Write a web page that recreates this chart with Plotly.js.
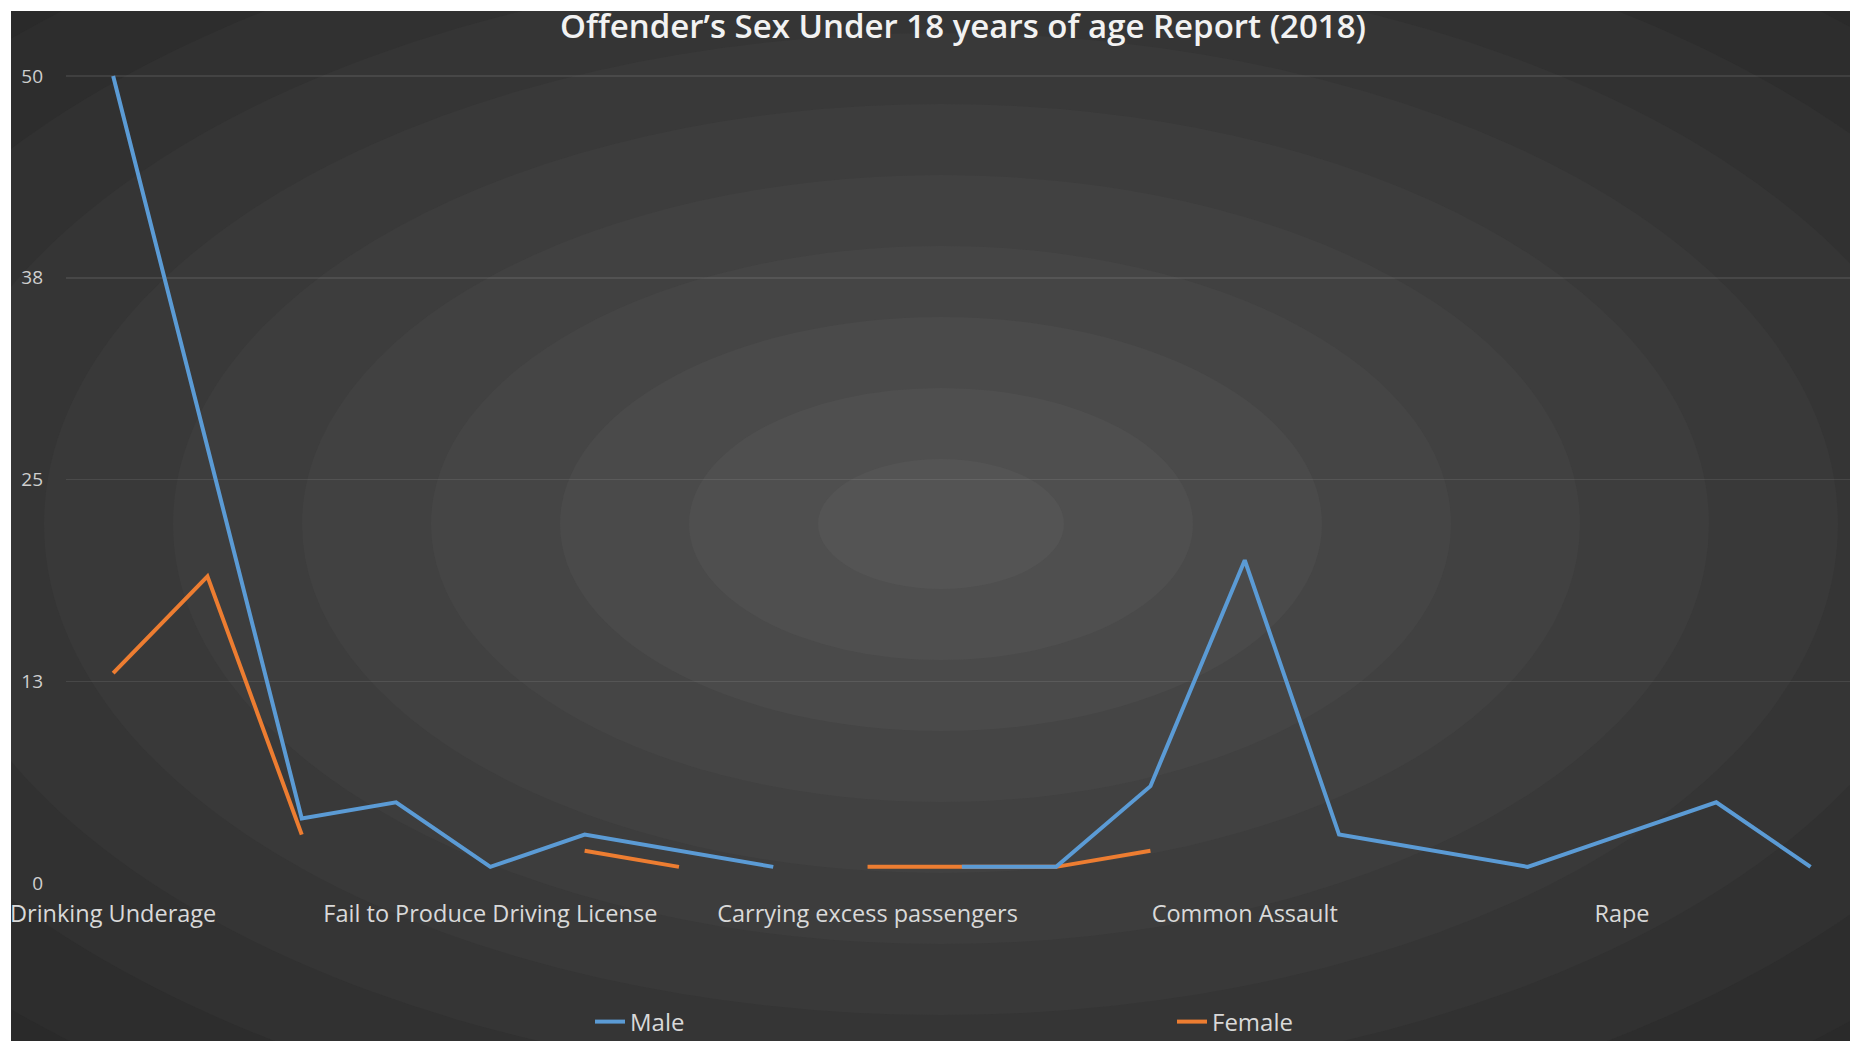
<!DOCTYPE html>
<html>
<head>
<meta charset="utf-8">
<script src="https://cdn.plot.ly/plotly-3.0.1.min.js"></script>
<style>
  html, body { margin: 0; padding: 0; background: #ffffff; overflow: hidden; }
  #chart { width: 1850px; height: 1041px; }
</style>
</head>
<body>
<div id="chart"></div>
<script>
// ---- data ----
const chartTitle = "Offender’s Sex Under 18 years of age Report (2018)";
// Only every 4th category label is shown in the reference; the hidden ones are unknown (null).
const categories = [
  "Drinking Underage", null, null, null,
  "Fail to Produce Driving License", null, null, null,
  "Carrying excess passengers", null, null, null,
  "Common Assault", null, null, null,
  "Rape", null, null
];
const maleValues   = [50, 27, 4, 5, 1, 3, 2, 1, null, 1, 1, 6, 20, 3, 2, 1, 3, 5, 1];
const femaleValues = [13, 19, 3, null, null, 2, 1, null, 1, 1, 1, 2, null, null, null, null, null, null, null];
const yTickValues = [0, 12.5, 25, 37.5, 50];
const yTickLabels = ["0", "13", "25", "38", "50"];
const seriesNames = ["Male", "Female"];

// ---- geometry / style ----
const W = 1850, H = 1041;
const mL = 66, mR = 0, mT = 66, mB = 158;
const plotW = W - mL - mR, plotH = H - mT - mB;
const xIdx = categories.map((c, i) => i);
const tickIdx = xIdx.filter(i => categories[i] !== null);
const tickText = tickIdx.map(i => categories[i]);

// background: banded radial gradient as concentric ellipses
const cx = 941, cy = 524;
const bandColors = ["#2a2a2a", "#2d2d2d", "#313131", "#353535", "#393939", "#3d3d3d",
                    "#414141", "#454545", "#4a4a4a", "#4f4f4f", "#545454"];
const shapes = [];
const nb = bandColors.length;
for (let j = 0; j < nb; j++) {
  const k = nb - j; // outer to inner
  const a = 129 * k - 6, b = 71 * k - 6;
  shapes.push({
    type: "circle", layer: "below",
    xref: "paper", yref: "paper",
    xsizemode: "pixel", ysizemode: "pixel",
    xanchor: (cx - mL) / plotW, yanchor: (H - mB - cy) / plotH,
    x0: -a, x1: a, y0: -b, y1: b,
    fillcolor: bandColors[j], line: { width: 0 }
  });
}
// white strips on the left and top edges (chart area starts at ~11px)
const px2x = p => (p - mL) / plotW;
const px2y = p => (H - mB - p) / plotH;
shapes.push({ type: "rect", layer: "above", xref: "paper", yref: "paper",
  x0: px2x(-5), x1: px2x(11), y0: px2y(H + 5), y1: px2y(-5),
  fillcolor: "#ffffff", line: { width: 0 } });
shapes.push({ type: "rect", layer: "above", xref: "paper", yref: "paper",
  x0: px2x(-5), x1: px2x(W + 5), y0: px2y(11), y1: px2y(-5),
  fillcolor: "#ffffff", line: { width: 0 } });

const traces = [
  { x: xIdx, y: femaleValues, name: seriesNames[1], type: "scatter", mode: "lines",
    line: { color: "#ED7D31", width: 4 }, connectgaps: false, legendrank: 2 },
  { x: xIdx, y: maleValues, name: seriesNames[0], type: "scatter", mode: "lines",
    line: { color: "#5B9BD5", width: 4 }, connectgaps: false, legendrank: 1 }
];

const pxPerUnit = (883 - 76) / 50;   // 50 sits at pixel 76, 0 at pixel 883

const layout = {
  width: W, height: H,
  margin: { l: mL, r: mR, t: mT, b: mB, pad: 0, autoexpand: false },
  paper_bgcolor: "#262626",
  plot_bgcolor: "rgba(0,0,0,0)",
  font: { family: "Open Sans, sans-serif", color: "#d9d9d9" },
  title: {
    text: chartTitle,
    x: 963 / W, xanchor: "center",
    y: 1 - 26 / H, yanchor: "middle",
    font: { size: 33, color: "#f2f2f2", family: "Open Sans, sans-serif", weight: 600 }
  },
  xaxis: {
    range: [-0.5, -0.5 + plotW / 94.3],
    tickmode: "array", tickvals: tickIdx, ticktext: tickText,
    showgrid: false, zeroline: false, showline: false, ticks: "",
    ticklabelstandoff: 14,
    tickfont: { size: 23.5, color: "#d9d9d9" },
    automargin: false,
    fixedrange: true
  },
  yaxis: {
    range: [0, 50 + (76 - mT) / pxPerUnit],
    tickmode: "array", tickvals: yTickValues, ticktext: yTickLabels,
    showgrid: true, gridcolor: "rgba(255,255,255,0.09)", gridwidth: 1.5,
    zeroline: false, showline: false, ticks: "",
    ticklabelstandoff: 22,
    tickfont: { size: 19, color: "#cfcfcf" },
    automargin: false,
    fixedrange: true
  },
  showlegend: true,
  legend: {
    orientation: "h",
    xref: "paper", x: px2x(590), xanchor: "left",
    yref: "container", y: (H - 1022) / H, yanchor: "middle",
    bgcolor: "rgba(0,0,0,0)",
    font: { size: 24, color: "#d9d9d9" },
    entrywidthmode: "pixels", entrywidth: 537,
    traceorder: "normal"
  },
  shapes: shapes
};

Plotly.newPlot("chart", traces, layout, { displayModeBar: false, staticPlot: true });
</script>
</body>
</html>
